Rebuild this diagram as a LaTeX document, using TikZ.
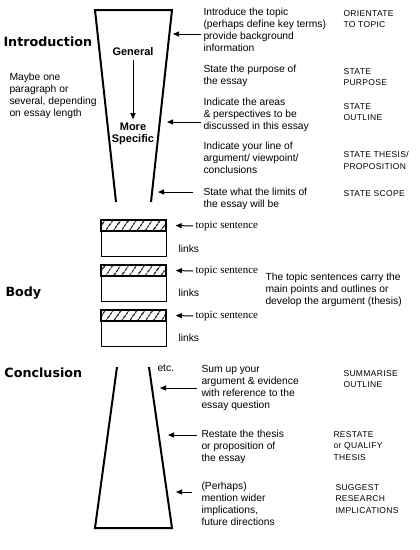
\documentclass[tikz,border=0pt]{standalone}
\usepackage{fontspec}
\setmainfont{Liberation Sans}
\newfontfamily\headfont{DejaVu Sans}
\newfontfamily\tagfont[LetterSpace=4]{Liberation Sans}
\newfontfamily\topicfont{Liberation Serif}
\usetikzlibrary{arrows.meta,patterns.meta}

\begin{document}
\begin{tikzpicture}[x=1pt,y=-1pt,line width=1pt,
  txt/.style={anchor=north west,inner sep=0,align=left,font=\fontsize{10.3}{11.8}\selectfont},
  tag/.style={anchor=north west,inner sep=0,align=left,font=\tagfont\fontsize{8.5}{11.5}\selectfont},
  head/.style={anchor=west,inner sep=0,font=\headfont\bfseries\fontsize{12.7}{14}\selectfont},
  funnel/.style={line width=2pt,line join=miter},
  arr/.style={-{Triangle[length=6pt,width=5pt]}},
  para/.style={draw,minimum width=65pt,minimum height=36pt,inner sep=0},
  band/.style={draw,line width=1.6pt,minimum width=65pt,minimum height=11pt,inner sep=0,
    pattern={Lines[angle=55,distance=6.5pt,line width=1.2pt]}},
  topic/.style={anchor=west,inner sep=0,font=\topicfont\fontsize{11}{12}\selectfont}]
\fill[white] (0,0) rectangle (420,550);
\useasboundingbox (0,0) rectangle (420,550);

% introduction funnel
\draw[funnel] (116,202) -- (95,10) -- (172,10) -- (151,202);
\node (Gen)[font=\bfseries\fontsize{11}{12}\selectfont] at (133,52) {General};
\node (Spec)[font=\bfseries\fontsize{11}{12}\selectfont,align=center] at (133,134) {More\\Specific};
\draw[arr,line width=0.8pt] (Gen) -- (Spec);

\node (Intro)[head] at (3,42) {Introduction};
\node (Maybe)[txt] at (9,73) {Maybe one\\paragraph or\\several, depending\\on essay length};

\node (I1)[txt] at (203,8) {Introduce the topic\\(perhaps define key terms)\\provide background\\information};
\node (I2)[txt] at (203,65) {State the purpose of\\the essay};
\node (I3)[txt] at (203,98) {Indicate the areas\\\& perspectives to be\\discussed in this essay};
\node (I4)[txt] at (203,142) {Indicate your line of\\argument/ viewpoint/\\conclusions};
\node (I5)[txt] at (203,188) {State what the limits of\\the essay will be};

\node (R1)[tag] at (343,10) {ORIENTATE\\TO TOPIC};
\node (R2)[tag] at (343,68) {STATE\\PURPOSE};
\node (R3)[tag] at (343,103) {STATE\\OUTLINE};
\node (R4)[tag] at (343,151) {STATE THESIS/\\PROPOSITION};
\node (R5)[tag] at (343,190) {STATE SCOPE};

\coordinate (a1) at (201,34);  \coordinate (f1) at (173,34);
\coordinate (a2) at (201,122); \coordinate (f2) at (167,122);
\coordinate (a3) at (193,192); \coordinate (f3) at (158,192);
\draw[arr] (a1) -- (f1);
\draw[arr] (a2) -- (f2);
\draw[arr] (a3) -- (f3);

% body paragraphs
\node (Body)[head] at (5,293) {Body};

\node (P1)[para] at (133.5,238) {};
\node (B1)[band] at (133.5,225.5) {};
\node (P2)[para] at (133.5,283) {};
\node (B2)[band] at (133.5,270.5) {};
\node (P3)[para] at (133.5,328) {};
\node (B3)[band] at (133.5,315.5) {};

\node (T1)[topic] at (195,226) {topic sentence};
\node (T2)[topic] at (195,271) {topic sentence};
\node (T3)[topic] at (195,316) {topic sentence};
\draw[arr] ([xshift=-2pt]T1.west) -- ([xshift=9pt]B1.east);
\draw[arr] ([xshift=-2pt]T2.west) -- ([xshift=9pt]B2.east);
\draw[arr] ([xshift=-2pt]T3.west) -- ([xshift=9pt]B3.east);

\node (L1)[anchor=west,inner sep=0,font=\fontsize{10.3}{11}\selectfont] at (178,249) {links};
\node (L2)[anchor=west,inner sep=0,font=\fontsize{10.3}{11}\selectfont] at (178,293) {links};
\node (L3)[anchor=west,inner sep=0,font=\fontsize{10.3}{11}\selectfont] at (178,338) {links};

\node (Carry)[txt] at (265,273) {The topic sentences carry the\\main points and outlines or\\develop the argument (thesis)};

% conclusion funnel
\draw[funnel] (117,367) -- (95,528) -- (172,528) -- (149,367);
\node (Concl)[head] at (4,373) {Conclusion};
\node (Etc)[anchor=west,inner sep=0,font=\fontsize{10.3}{11}\selectfont] at (157,368) {etc.};

\node (C1)[txt] at (201,365) {Sum up your\\argument \& evidence\\with reference to the\\essay question};
\node (C2)[txt] at (201,430) {Restate the thesis\\or proposition of\\the essay};
\node (C3)[txt] at (201,482) {(Perhaps)\\mention wider\\implications,\\future directions};

\node (S1)[tag] at (343,370) {SUMMARISE\\OUTLINE};
\node (S2)[tag] at (333,431) {RESTATE\\or QUALIFY\\THESIS};
\node (S3)[tag] at (335,484) {SUGGEST\\RESEARCH\\IMPLICATIONS};

\coordinate (c1) at (197,388); \coordinate (g1) at (160,388);
\coordinate (c2) at (197,435); \coordinate (g2) at (168,435);
\coordinate (c3) at (192,492); \coordinate (g3) at (176,492);
\draw[arr] (c1) -- (g1);
\draw[arr] (c2) -- (g2);
\draw[arr] (c3) -- (g3);
\end{tikzpicture}
\end{document}
